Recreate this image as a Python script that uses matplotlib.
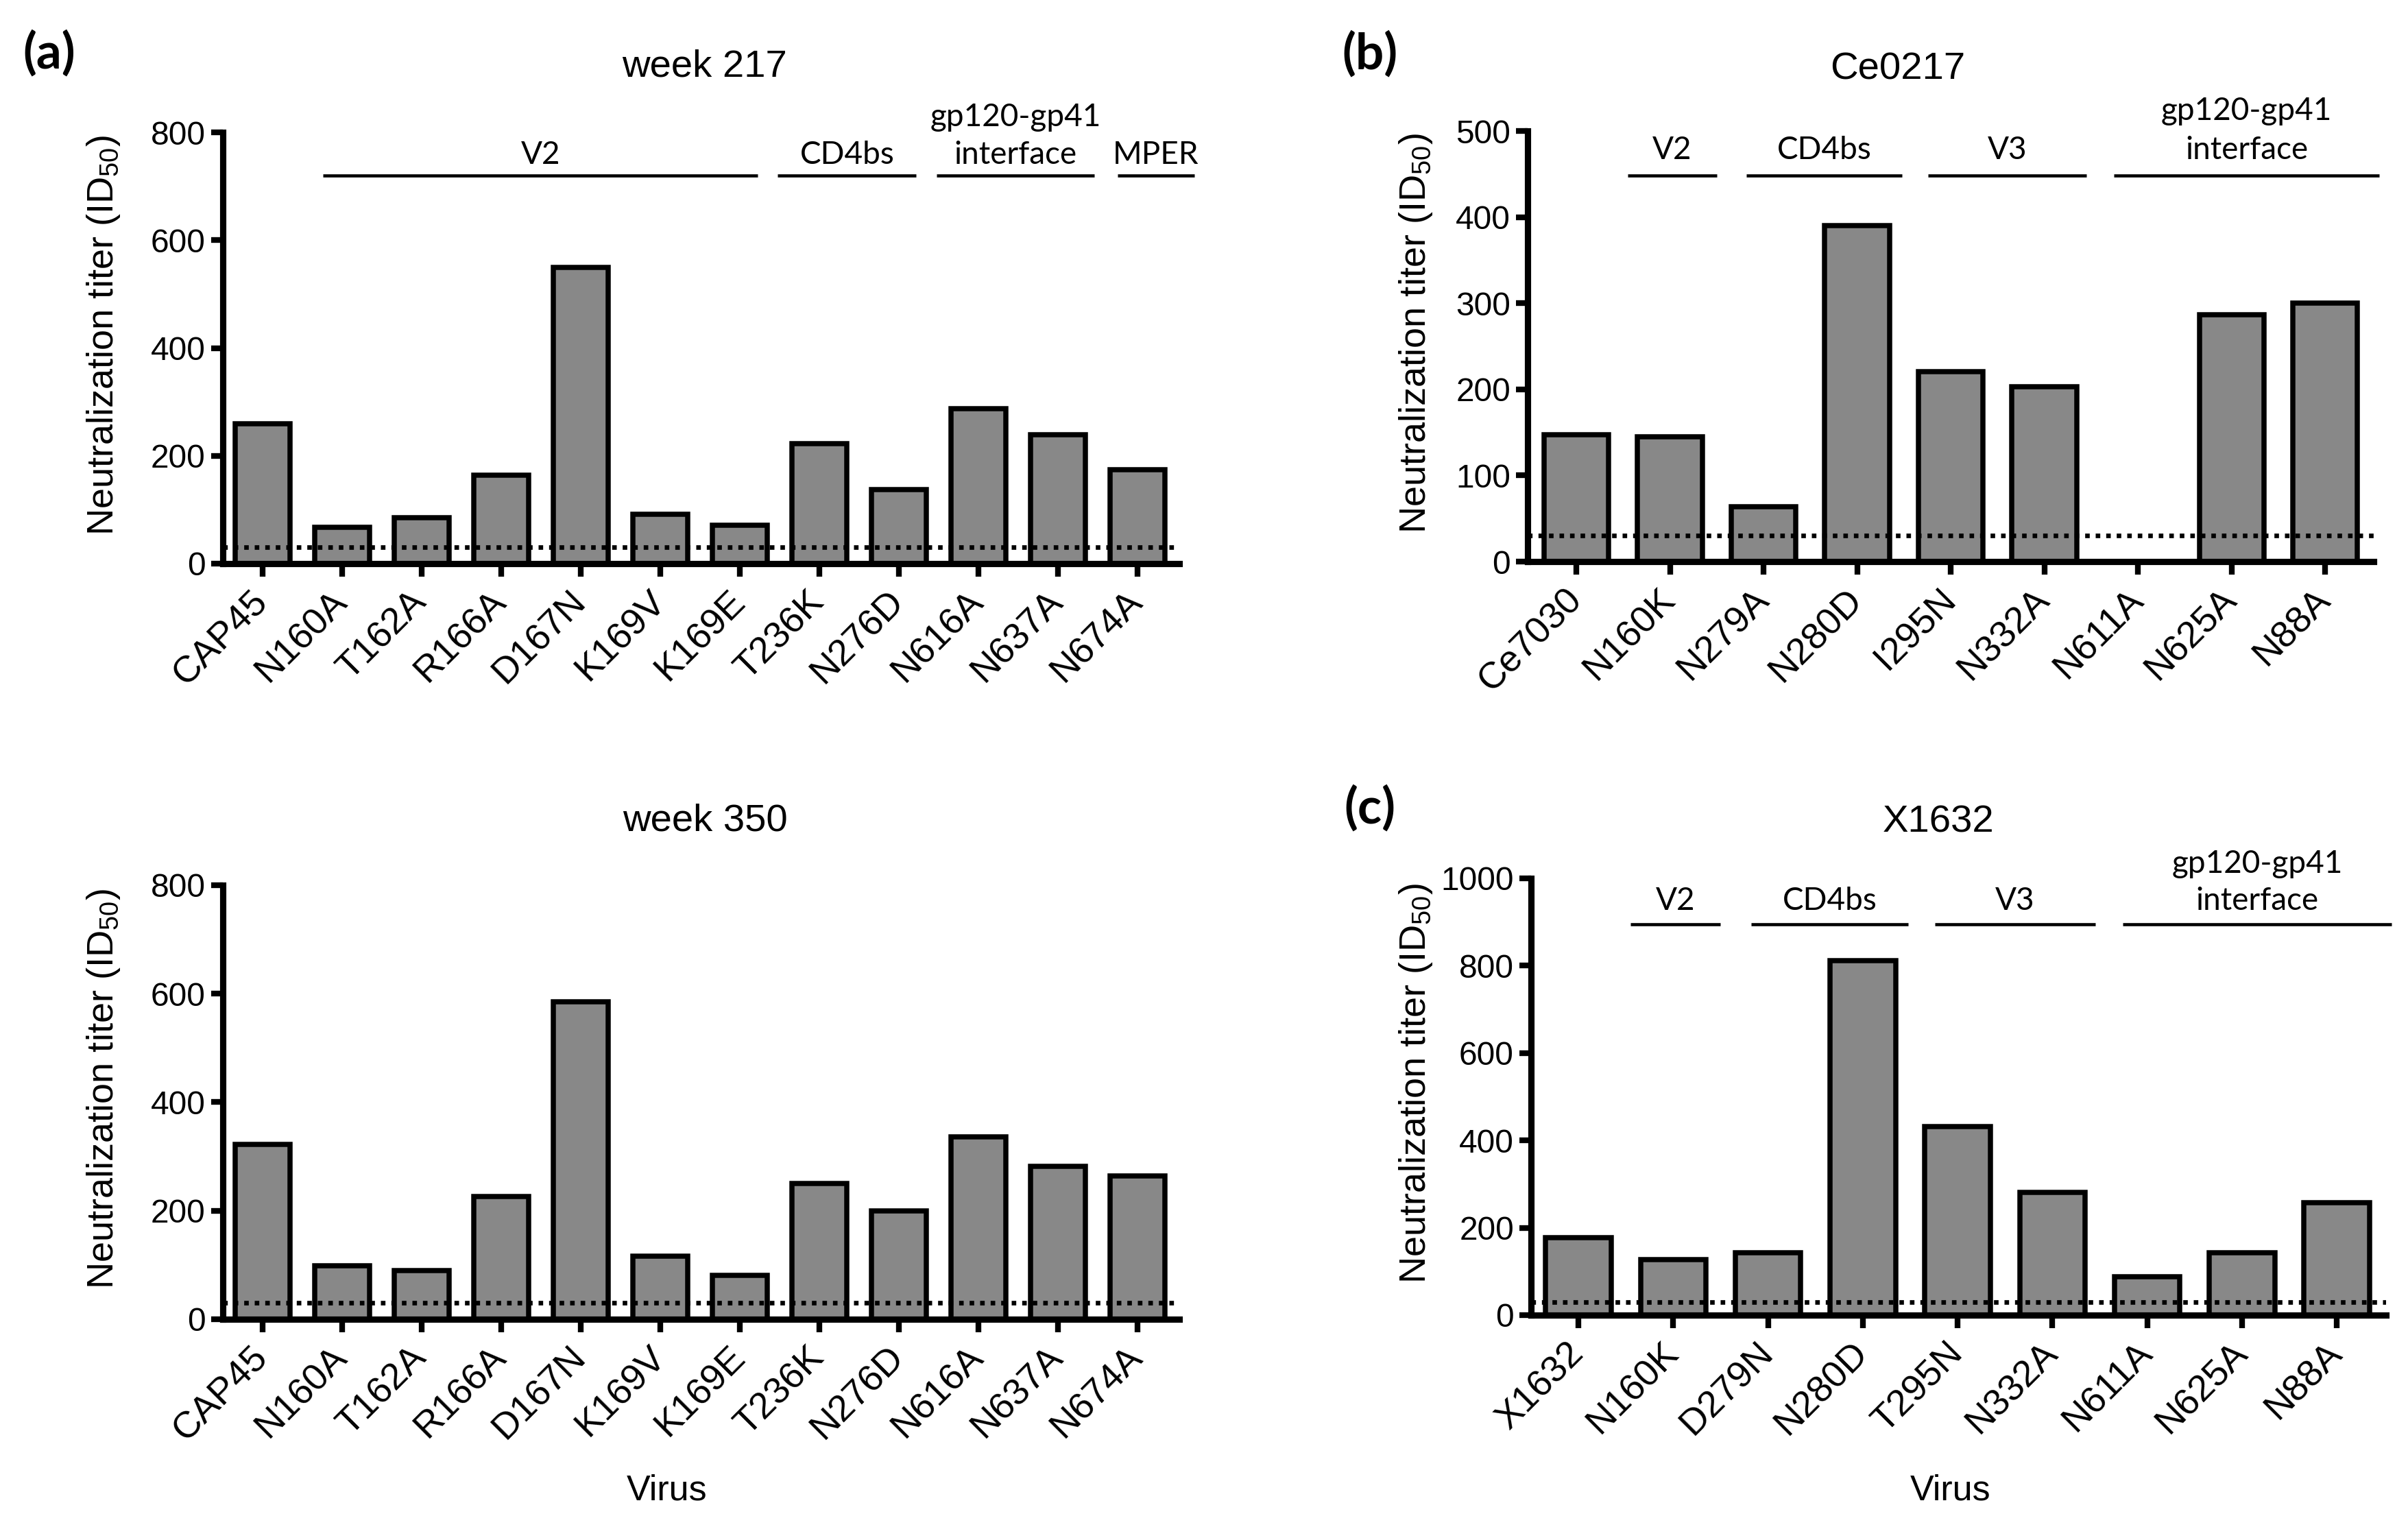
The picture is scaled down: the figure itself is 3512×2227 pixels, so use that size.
import matplotlib
matplotlib.use("Agg")
import matplotlib.pyplot as plt

plt.rcParams['font.family'] = ['Liberation Sans', 'DejaVu Sans']
plt.rcParams['mathtext.default'] = 'regular'

# ---------------- data ----------------
viruses_a = ["CAP45", "N160A", "T162A", "R166A", "D167N", "K169V", "K169E",
             "T236K", "N276D", "N616A", "N637A", "N674A"]
week217 = [260, 67, 85, 164, 550, 92, 71, 222, 137, 288, 239, 174]
week350 = [322, 98, 90, 226, 585, 116, 81, 250, 199, 336, 282, 264]

viruses_b = ["Ce7030", "N160K", "N279A", "N280D", "I295N", "N332A", "N611A",
             "N625A", "N88A"]
ce0217 = [147, 145, 64, 390, 221, 203, 0, 287, 300]

viruses_c = ["X1632", "N160K", "D279N", "N280D", "T295N", "N332A", "N611A",
             "N625A", "N88A"]
x1632 = [177, 127, 142, 811, 431, 281, 88, 142, 257]

cutoff = 30

# region annotations: (label, start, end)
regions_a = [("V2", 0.76, 6.23), ("CD4bs", 6.48, 8.22),
             ("gp120-gp41\ninterface", 8.48, 10.46), ("MPER", 10.75, 11.72)]
regions_bc = [("V2", 0.55, 1.5), ("CD4bs", 1.82, 3.48), ("V3", 3.76, 5.45),
              ("gp120-gp41\ninterface", 5.74, 8.58)]

BAR_COLOR = '#888888'
W, H = 3512, 2227
DPI = 300
fig = plt.figure(figsize=(W / DPI, H / DPI), dpi=DPI)

REG_FONT = ['Lato', 'Liberation Sans', 'DejaVu Sans']


def make_panel(rect, names, values, ymax, ystep, xlim, regions=None,
               line_y=None, text_y=None, text_y2=None, lab_x=-0.11):
    ax = fig.add_axes(rect)
    x = list(range(len(names)))
    ax.bar(x, values, width=0.69, color=BAR_COLOR, edgecolor='black',
           linewidth=1.8, zorder=2)
    ax.axhline(cutoff, color='black', linestyle=(0, (1, 1.3)), linewidth=1.6,
               zorder=3)
    ax.set_xlim(*xlim)
    ax.set_ylim(0, ymax)
    ax.set_yticks(range(0, ymax + 1, ystep))
    ax.set_xticks(x)
    ax.set_xticklabels(names, rotation=45, ha='right', va='center',
                       rotation_mode='anchor', fontsize=13)
    ax.tick_params(axis='y', labelsize=11.5, width=2, length=4, pad=2)
    ax.tick_params(axis='x', width=2, length=4.5, pad=7)
    for s in ['top', 'right']:
        ax.spines[s].set_visible(False)
    for s in ['left', 'bottom']:
        ax.spines[s].set_linewidth(2.2)
    ax.set_ylabel('Neutralization titer (ID$_{50}$)', fontsize=13)
    ax.yaxis.set_label_coords(lab_x, 0.53)
    if regions:
        for label, a, b in regions:
            ax.plot([a, b], [line_y, line_y], color='black', linewidth=1.1,
                    clip_on=False, solid_capstyle='butt')
            if '\n' in label:
                l1, l2 = label.split('\n')
                ax.text((a + b) / 2, text_y2, l1, ha='center', va='center',
                        fontsize=11, family=REG_FONT)
                ax.text((a + b) / 2, text_y, l2, ha='center', va='center',
                        fontsize=11, family=REG_FONT)
            else:
                ax.text((a + b) / 2, text_y, label, ha='center', va='center',
                        fontsize=11, family=REG_FONT)
    return ax


# panel (a) top
make_panel([0.0925, 0.6309, 0.3973, 0.2824], viruses_a, week217, 800, 200,
           (-0.5, 11.53), regions_a, line_y=720, text_y=758, text_y2=828,
           lab_x=-0.105)
# panel (a) bottom
make_panel([0.0925, 0.1361, 0.3973, 0.2842], viruses_a, week350, 800, 200,
           (-0.5, 11.53), lab_x=-0.105)
# panel (b)
make_panel([0.6344, 0.6322, 0.3514, 0.2820], viruses_b, ce0217, 500, 100,
           (-0.52, 8.52), regions_bc, line_y=448, text_y=478, text_y2=523,
           lab_x=-0.11)
# panel (c)
make_panel([0.6358, 0.1388, 0.3551, 0.2860], viruses_c, x1632, 1000, 200,
           (-0.5, 8.52), regions_bc, line_y=895, text_y=948, text_y2=1033,
           lab_x=-0.113)

# titles
fig.text(0.2927, 0.9564, 'week 217', ha='center', va='center', fontsize=13.5)
fig.text(0.2927, 0.4625, 'week 350', ha='center', va='center', fontsize=13.5)
fig.text(0.788, 0.9546, 'Ce0217', ha='center', va='center', fontsize=13.5)
fig.text(0.805, 0.4616, 'X1632', ha='center', va='center', fontsize=13.5)

# panel labels
for lbl, px, py in [('(a)', 0.0205, 0.965), ('(b)', 0.569, 0.9645),
                    ('(c)', 0.569, 0.4706)]:
    fig.text(px, py, lbl, ha='center', va='center', fontsize=17.5,
             fontweight='bold', family=REG_FONT)

# x axis labels
fig.text(0.277, 0.024, 'Virus', ha='center', va='center', fontsize=12.5)
fig.text(0.810, 0.024, 'Virus', ha='center', va='center', fontsize=12.5)

fig.savefig('out.png', dpi=DPI)
